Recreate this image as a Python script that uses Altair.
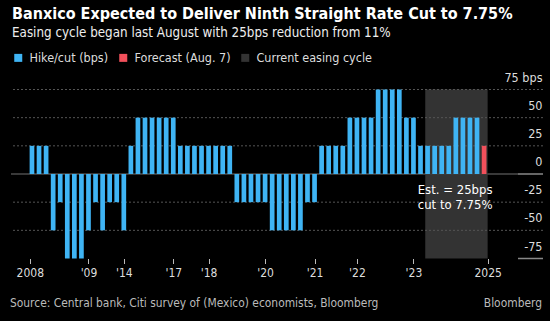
import json
import altair as alt
import pandas as pd

# ---------------- data ----------------
changes = [25, 25, 25,
           -50, -25, -75, -75, -75, -50, -25,
           -50, -25, -25, -50,
           25, 50, 50, 50, 50, 50, 50,
           25, 25, 25, 25, 25, 25, 25, 25,
           -25, -25, -25, -25, -25,
           -50, -50, -50, -50, -50,
           -25, -25,
           25, 25, 25, 25,
           50, 50, 50, 50,
           75, 75, 75, 75,
           50, 50,
           25,
           25, 25, 25, 25,
           50, 50, 50, 50]
forecast = [25]

tick_index = [-0.3, 8, 13, 20, 25, 33, 40, 46, 54, 64.5]
tick_labels = ["2008", "'09", "'14", "'17", "'18", "'20", "'21", "'22", "'23", "2025"]
y_ticks = [75, 50, 25, 0, -25, -50, -75]
grid_levels = [75, 50, 25, -25, -50]
easing_start = [55.67]
easing_end = [64.5]
series_names = ["Hike/cut (bps)", "Forecast (Aug. 7)", "Current easing cycle"]
series_colors = ["#3fb4f4", "#f2505b", "#333333"]
annotation = "Est. = 25bps\ncut to 7.75%"
annotation_x = [59.9]
annotation_y = [-14.6]
title = "Banxico Expected to Deliver Ninth Straight Rate Cut to 7.75%"
subtitle = "Easing cycle began last August with 25bps reduction from 11%"
source = "Source: Central bank, Citi survey of (Mexico) economists, Bloomberg"
brand = "Bloomberg"

FONT = "DejaVu Sans Condensed, DejaVu Sans"
W, H = 532, 169

values = changes + forecast
bars_df = pd.DataFrame({
    "idx": list(range(len(values))),
    "change": values,
    "series": [series_names[0]] * len(changes) + [series_names[1]] * len(forecast),
})
easing_df = pd.DataFrame({"start": easing_start, "end": easing_end,
                          "series": [series_names[2]]})
grid_df = pd.DataFrame({"level": grid_levels})
ann_df = pd.DataFrame({"x": annotation_x, "y": annotation_y, "text": [annotation]})

label_expr = "''"
for v, lab in reversed(list(zip(tick_index, tick_labels))):
    label_expr = f"datum.value == {v} ? {json.dumps(lab)} : {label_expr}"

x_scale = alt.Scale(domain=[-2.26, 71.63], nice=False, zero=False)
y_scale = alt.Scale(domain=[-75, 75], nice=False, zero=False)

color = alt.Color(
    "series:N",
    scale=alt.Scale(domain=series_names, range=series_colors),
    legend=alt.Legend(
        orient="none", legendX=1, legendY=-38, direction="horizontal",
        title=None, symbolType="square", symbolSize=64, symbolStrokeWidth=0,
        labelFontSize=12.5, labelColor="#dddddd", labelFont=FONT,
        columnPadding=8, labelOffset=5, padding=0,
    ),
)

x_axis = alt.Axis(values=tick_index, labelExpr=label_expr, domain=False, grid=False,
                  tickSize=5, tickColor="#bbbbbb", labelColor="#dddddd",
                  labelFontSize=12, labelFont=FONT, labelPadding=4,
                  labelFlush=False, labelOverlap=False, title=None)
y_axis = alt.Axis(orient="right", values=y_ticks,
                  labelExpr="datum.value == 75 ? '75 bps' : '' + datum.value",
                  domain=False, ticks=False, tickSize=0, grid=False,
                  labelAlign="right", labelPadding=-1, labelBaseline="middle",
                  labelOffset=-12.5, labelColor="#dddddd", labelFontSize=12.5,
                  labelFont=FONT, labelOverlap=False, labelFlush=False,
                  labelBound=False, title=None)

rect = alt.Chart(easing_df).mark_rect().encode(
    x=alt.X("start:Q", scale=x_scale, axis=x_axis),
    x2="end:Q",
    y=alt.datum(-75, scale=y_scale, axis=y_axis),
    y2=alt.datum(75),
    color=color,
)

grid = alt.Chart(grid_df).mark_rule(color="#555555", strokeDash=[2, 2], strokeWidth=1).encode(
    y=alt.Y("level:Q", scale=y_scale, axis=y_axis),
)

zero = alt.Chart(grid_df).mark_rule(color="#3a3a3a", strokeWidth=1.5).encode(
    y=alt.datum(0, scale=y_scale, axis=y_axis), x=alt.value(0), x2=alt.value(507),
)
edge_levels = alt.Chart(pd.DataFrame({"level": [0, -75]})).mark_rule(
    color="#888888", strokeWidth=1.5).encode(
    y=alt.Y("level:Q", scale=y_scale, axis=y_axis), x=alt.value(507), x2=alt.value(532),
)

bars = alt.Chart(bars_df).mark_bar(size=4.7).encode(
    x=alt.X("idx:Q", scale=x_scale, axis=x_axis),
    y=alt.Y("change:Q", scale=y_scale, axis=y_axis),
    y2=alt.datum(0),
    color=color,
)

ann = alt.Chart(ann_df).mark_text(
    color="#ffffff", fontSize=13, font=FONT, align="center", baseline="middle",
    lineBreak="\n", lineHeight=15,
).encode(x=alt.X("x:Q", scale=x_scale, axis=x_axis),
         y=alt.Y("y:Q", scale=y_scale, axis=y_axis), text="text:N")

foot = alt.Chart(pd.DataFrame({"t": [source]})).mark_text(
    color="#bbbbbb", fontSize=11.9, font=FONT, align="left", baseline="middle",
).encode(x=alt.value(-1), y=alt.value(213.5), text="t:N")
foot2 = alt.Chart(pd.DataFrame({"t": [brand]})).mark_text(
    color="#bbbbbb", fontSize=11.9, font=FONT, align="right", baseline="middle",
).encode(x=alt.value(531), y=alt.value(213.5), text="t:N")

chart = alt.layer(rect, grid, zero, edge_levels, bars, ann, foot, foot2).properties(
    width=W, height=H,
    title=alt.TitleParams(
        text=title, subtitle=subtitle, anchor="start", frame="group",
        color="#ffffff", font=FONT, fontSize=16, fontWeight="bold",
        subtitleColor="#eeeeee", subtitleFont=FONT, subtitleFontSize=13.3,
        subtitlePadding=4, offset=12, dx=1,
    ),
    autosize=alt.AutoSizeParams(type="none"),
    padding={"left": 11, "top": 89.5, "right": 7, "bottom": 62.5},
    background="#000000",
).configure_view(stroke=None).configure_axis(labelOverlap=False)

chart.save("out.html", embed_options={"renderer": "svg", "actions": False})
